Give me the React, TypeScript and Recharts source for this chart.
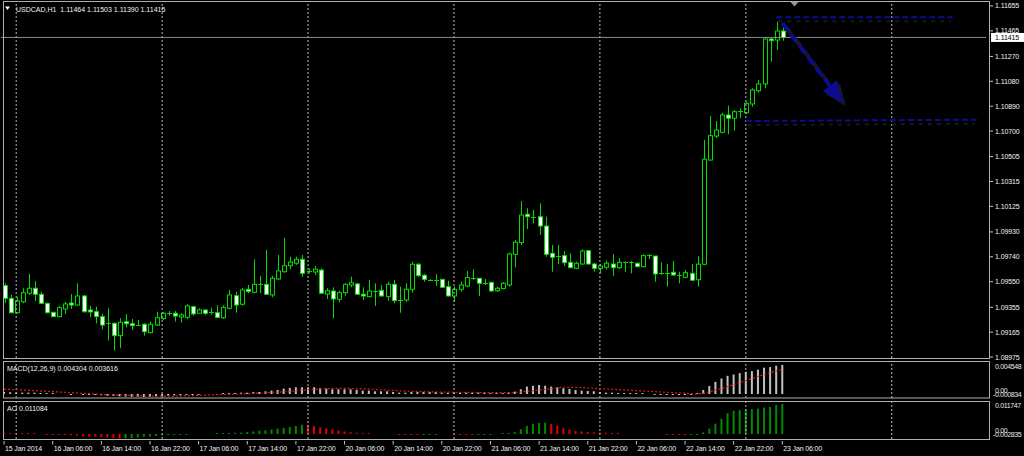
import { ComposedChart, Bar, Line, XAxis, YAxis, ReferenceLine } from "recharts";

const FONT = "'Liberation Sans', Arial, sans-serif";
const GREEN = "#00dc00";
const NAVY = "#0c0c92";
const GRID = "#bdbdbd";
const FRAME = "#b0b0b0";

const symbol = "USDCAD,H1";

// hourly candles, 15 Jan 22:00 .. 23 Jan 06:00
const opens = [
  1.0952, 1.09423, 1.09313, 1.09397, 1.09462, 1.095, 1.09454, 1.09385, 1.09316, 1.09283,
  1.09342, 1.09387, 1.09372, 1.09441, 1.09334, 1.09321, 1.09283, 1.09232, 1.09232, 1.09138,
  1.09245, 1.09229, 1.09219, 1.09225, 1.09161, 1.09219, 1.09268, 1.09306, 1.09309, 1.09281,
  1.09278, 1.09359, 1.09309, 1.09334, 1.09313, 1.09313, 1.09275, 1.09347, 1.09443, 1.09378,
  1.09492, 1.09469, 1.09533, 1.0953, 1.09449, 1.09571, 1.09626, 1.09672, 1.09691, 1.09721,
  1.09632, 1.09624, 1.09639, 1.09456, 1.09479, 1.09416, 1.09466, 1.09525, 1.09533, 1.09454,
  1.09436, 1.09479, 1.09484, 1.09436, 1.0953, 1.0941, 1.0941, 1.09492, 1.09683, 1.09599,
  1.09563, 1.09563, 1.09568, 1.09512, 1.09441, 1.09492, 1.09517, 1.09578, 1.09576, 1.09538,
  1.09545, 1.09481, 1.09497, 1.09525, 1.09759, 1.09848, 1.10065, 1.10046, 1.10046, 1.09975,
  1.09767, 1.09746, 1.09749, 1.09698, 1.09652, 1.09685, 1.09787, 1.09685, 1.09652, 1.0966,
  1.09685, 1.09657, 1.09698, 1.09698, 1.09691, 1.09665, 1.09754, 1.09746, 1.09614, 1.09614,
  1.09622, 1.09601, 1.09584, 1.09614, 1.09565, 1.09683, 1.10479, 1.10662, 1.10691, 1.10823,
  1.10798, 1.10848, 1.1084, 1.10907, 1.11008, 1.1106, 1.11403, 1.11395, 1.11464,
];
const highs = [
  1.09538, 1.09449, 1.09436, 1.095, 1.09609, 1.09555, 1.09474, 1.0939, 1.09321, 1.09365,
  1.09397, 1.09456, 1.09538, 1.09449, 1.09365, 1.09359, 1.09304, 1.09347, 1.0924, 1.09271,
  1.09304, 1.09265, 1.09258, 1.09232, 1.09245, 1.09321, 1.09321, 1.09326, 1.09326, 1.09309,
  1.09378, 1.09367, 1.09347, 1.09339, 1.09352, 1.0937, 1.0937, 1.09487, 1.09474, 1.09504,
  1.09525, 1.09721, 1.09594, 1.09792, 1.09594, 1.09754, 1.09886, 1.09741, 1.09741, 1.09754,
  1.09652, 1.0967, 1.09652, 1.095, 1.09507, 1.09481, 1.09538, 1.09588, 1.09542, 1.09507,
  1.09563, 1.09538, 1.09525, 1.0955, 1.09563, 1.09512, 1.09538, 1.09703, 1.09691, 1.09609,
  1.09568, 1.09609, 1.09573, 1.09558, 1.09512, 1.0955, 1.09632, 1.09645, 1.09576, 1.09571,
  1.0955, 1.09512, 1.09548, 1.09772, 1.09868, 1.10166, 1.10111, 1.10098, 1.10149, 1.10046,
  1.0983, 1.0983, 1.09784, 1.09767, 1.09703, 1.09797, 1.09792, 1.09695, 1.09685, 1.0971,
  1.09759, 1.09729, 1.09703, 1.09708, 1.09695, 1.09759, 1.09762, 1.09746, 1.09698, 1.09685,
  1.09708, 1.09626, 1.09639, 1.09685, 1.09744, 1.10632, 1.10815, 1.10777, 1.1084, 1.10894,
  1.10861, 1.10874, 1.10924, 1.11027, 1.1109, 1.11408, 1.11408, 1.11535, 1.11503,
];
const lows = [
  1.09387, 1.09309, 1.09309, 1.09385, 1.09449, 1.09403, 1.0938, 1.09309, 1.09283, 1.09278,
  1.09304, 1.09342, 1.09367, 1.09313, 1.09278, 1.09232, 1.09187, 1.091, 1.09023, 1.09042,
  1.09202, 1.09181, 1.09212, 1.09138, 1.09156, 1.09212, 1.09258, 1.09291, 1.09245, 1.09237,
  1.09265, 1.09291, 1.09304, 1.09296, 1.09298, 1.09273, 1.09265, 1.09339, 1.09313, 1.09367,
  1.09462, 1.09462, 1.09462, 1.09449, 1.09431, 1.09563, 1.09619, 1.09645, 1.09678, 1.09588,
  1.09614, 1.09601, 1.09456, 1.09418, 1.09271, 1.09393, 1.09443, 1.09507, 1.09449, 1.0941,
  1.09431, 1.09365, 1.09436, 1.09405, 1.09385, 1.09313, 1.09395, 1.09466, 1.09588, 1.0955,
  1.09555, 1.09517, 1.09502, 1.09436, 1.09397, 1.09474, 1.09507, 1.09563, 1.09441, 1.09525,
  1.09474, 1.09471, 1.09492, 1.09512, 1.0966, 1.0983, 1.09952, 1.09996, 1.09907, 1.09741,
  1.09626, 1.09685, 1.0967, 1.09652, 1.09645, 1.0968, 1.0968, 1.09626, 1.09614, 1.09642,
  1.09594, 1.09647, 1.09626, 1.09614, 1.0966, 1.0966, 1.09723, 1.0955, 1.09601, 1.09512,
  1.09596, 1.09538, 1.09576, 1.09555, 1.09512, 1.09678, 1.10474, 1.10645, 1.10683, 1.10676,
  1.10703, 1.108, 1.10831, 1.10886, 1.10993, 1.11027, 1.1123, 1.11319, 1.1139,
];
const closes = [
  1.09423, 1.09313, 1.09403, 1.09466, 1.095, 1.09454, 1.09385, 1.09313, 1.09283, 1.09352,
  1.0938, 1.09372, 1.09441, 1.09321, 1.09319, 1.09283, 1.09219, 1.09222, 1.09138, 1.0924,
  1.09229, 1.09214, 1.09217, 1.09168, 1.09225, 1.09275, 1.09309, 1.09311, 1.09288, 1.09296,
  1.09365, 1.09304, 1.09334, 1.09309, 1.09316, 1.09278, 1.09352, 1.09449, 1.09372, 1.09487,
  1.09474, 1.0953, 1.09527, 1.09454, 1.09576, 1.09632, 1.09672, 1.097, 1.09721, 1.09614,
  1.09632, 1.09645, 1.09462, 1.09481, 1.09418, 1.09466, 1.0953, 1.09542, 1.09454, 1.09441,
  1.09479, 1.0948, 1.09441, 1.0953, 1.09405, 1.0941, 1.09492, 1.09683, 1.09596, 1.09568,
  1.09563, 1.09561, 1.09507, 1.09441, 1.09492, 1.09525, 1.09581, 1.09578, 1.09538, 1.09535,
  1.09479, 1.095, 1.09538, 1.09762, 1.09851, 1.10059, 1.10046, 1.10046, 1.09975, 1.09759,
  1.09736, 1.09746, 1.09695, 1.09657, 1.09691, 1.09784, 1.09685, 1.09652, 1.0967, 1.09691,
  1.09657, 1.09698, 1.09698, 1.09695, 1.09665, 1.09749, 1.09754, 1.09609, 1.09614, 1.09611,
  1.09601, 1.09599, 1.09619, 1.09561, 1.09684, 1.10485, 1.10665, 1.10708, 1.10823, 1.10798,
  1.10848, 1.10851, 1.10912, 1.11014, 1.1106, 1.11403, 1.1139, 1.11464, 1.11415,
];

// MACD(12,26,9): main histogram and signal
const macdMain = [
  0.0003, 0.00025, 0.0002, 0.0002, 0.0002, 0.0002, 0.00015, 0.0001, 0.00005,
  0, 0, -0.00005, 0, -0.00005, -0.0001, -0.00015, -0.0002,
  -0.00025, -0.0003, -0.00035, -0.0004, -0.0004, -0.0004, -0.00045, -0.0004, -0.00035, -0.0003, -0.00025, -0.0002,
  -0.0002, -0.0001, -0.0001, -0.00005, 0, 0, 0, 0.00005, 0.0001, 0.0001,
  0.0002, 0.0002, 0.0003, 0.0003, 0.0004, 0.0005,
  0.0006, 0.0008, 0.0009, 0.001, 0.001, 0.001, 0.001, 0.0009, 0.0008, 0.0007,
  0.0007, 0.0007, 0.0007, 0.0006, 0.0005, 0.0005, 0.0004, 0.0004, 0.0004, 0.0003, 0.0002, 0.0002,
  0.0003, 0.0003, 0.0003, 0.0003, 0.0003, 0.0002, 0.0002, 0.0002, 0.0002, 0.0002, 0.0002, 0.0002, 0.0002, 0.00015, 0.00015, 0.00015, 0.0002,
  0.00035, 0.0007, 0.0011, 0.00123, 0.00133, 0.00123, 0.0011, 0.001,
  0.00085, 0.00075, 0.0006, 0.0005, 0.00045, 0.0004, 0.0003,
  0.0002, 0.0002, 0.00015, 0.0001, 0.0001, 0.00005, 0.00005, 0, -0.0001, -0.0001, -0.00015, -0.00015, -0.0001, -0.0001, -0.0001, 0.0001,
  0.0006, 0.0012, 0.0018, 0.0023, 0.0027, 0.0029, 0.0031, 0.0033, 0.0034, 0.0036, 0.0039, 0.004, 0.0042, 0.004304,
];
const macdSignal = [
  0.0007, 0.00068, 0.00065, 0.0006, 0.00055, 0.0005, 0.00045, 0.0004, 0.00035,
  0.0003, 0.00025, 0.0002, 0.00015, 0.0001, 0.00005, 0, -0.00005,
  -0.0001, -0.00013, -0.00017, -0.0002, -0.00023, -0.00027, -0.0003, -0.00032, -0.00033, -0.00033, -0.00032, -0.0003,
  -0.00028, -0.00026, -0.00023, -0.0002, -0.00017, -0.00014, -0.0001, -0.00007, -0.00004, -0.00001,
  0.00002, 0.00005, 0.0001, 0.00014, 0.00018, 0.00022,
  0.00027, 0.00032, 0.0004, 0.00048, 0.00056, 0.00064, 0.0007, 0.00076, 0.0008, 0.00083,
  0.00085, 0.00084, 0.00082, 0.0008, 0.00077, 0.00073, 0.00068, 0.00063, 0.00058, 0.00053, 0.00048, 0.00043,
  0.0004, 0.00037, 0.00034, 0.00032, 0.0003, 0.00028, 0.00027, 0.00026, 0.00025, 0.00024, 0.00023, 0.00022, 0.00022, 0.00021, 0.0002, 0.0002, 0.0002,
  0.00022, 0.0003, 0.0004, 0.0005, 0.0006, 0.0007, 0.0008, 0.0009, 0.001, 0.001, 0.00098, 0.00095, 0.0009, 0.00085, 0.0008,
  0.00075, 0.0007, 0.00065, 0.0006, 0.00055, 0.0005, 0.00045, 0.0004, 0.00035, 0.0003, 0.00025, 0.0002, 0.00015, 0.0001, 0.00005, 0,
  0.0001, 0.0003, 0.0006, 0.0008, 0.0011, 0.0014, 0.0017, 0.002, 0.0023, 0.0026, 0.0029, 0.0032, 0.0034, 0.003616,
];

// Awesome Oscillator
const aoValues = [
  0.0003, 0.00025, 0.0002, 0.00015, 0.0001, 0.00005, 0, -0.0001,
  -0.0002, -0.0003, -0.0004, -0.0005, -0.0006, -0.0008, -0.0009, -0.001, -0.0012, -0.0013, -0.0015, -0.0017,
  -0.0016, -0.0015, -0.0013, -0.0011, -0.0009, -0.0007,
  -0.0005, -0.0003, -0.0002, -0.0001, -0.00005,
  0, 0, 0, 0,
  0.0001, 0.0002, 0.0003, 0.0004,
  0.0005, 0.0007, 0.0009, 0.0012, 0.0014, 0.0017, 0.002, 0.0023, 0.0026, 0.003, 0.0034,
  0.0033, 0.0029, 0.0025, 0.0021, 0.0017, 0.0013,
  0.0009, 0.0006, 0.0004, 0.0002, 0.0001,
  0, 0, 0, 0,
  -0.0001, -0.00015, -0.0002,
  -0.0002,
  -0.00015, -0.0001, -0.00005,
  0, 0,
  -0.0001, -0.00015, -0.0002,
  -0.0002,
  -0.00015, -0.0001, -0.00005,
  0, 0.0001,
  0.0003,
  0.0007, 0.0018, 0.003, 0.0037, 0.0041, 0.0042,
  0.0037, 0.0031, 0.0023, 0.0016, 0.0011, 0.0009, 0.0007, 0.0006, 0.0005, 0.0004, 0.0002,
  0.0001, 0, 0, 0, 0, 0, 0, 0,
  -0.0001, -0.0002,
  -0.0003, -0.0004, -0.0003, -0.0002,
  0.0006,
  0.002, 0.0038, 0.0056, 0.0077, 0.0086, 0.0089, 0.0091, 0.0092, 0.0093, 0.0098, 0.01, 0.0107, 0.011084,
];

const timeLabels = [
  "15 Jan 2014", "16 Jan 06:00", "16 Jan 14:00", "16 Jan 22:00", "17 Jan 06:00", "17 Jan 14:00",
  "17 Jan 22:00", "20 Jan 06:00", "20 Jan 14:00", "20 Jan 22:00", "21 Jan 06:00", "21 Jan 14:00",
  "21 Jan 22:00", "22 Jan 06:00", "22 Jan 14:00", "22 Jan 22:00", "23 Jan 06:00",
];
const priceTicks = [
  1.11655, 1.11465, 1.1127, 1.1108, 1.1089, 1.107, 1.10505, 1.10315, 1.10125, 1.0993,
  1.0974, 1.0955, 1.09355, 1.09165, 1.08975,
];
const dayStarts = [2, 26, 50, 74, 98, 122, 146];

const macdRange = [-0.000834, 0.004548];
const aoRange = [-0.002835, 0.011747];

// drawn objects on the price chart
const resistance = { from: 127, to: 156, fromPrice: 1.11569, toPrice: 1.11569 };
const support = { from: 122, to: 160, fromPrice: 1.10777, toPrice: 1.10787 };
const arrow = { from: 128, to: 138, fromPrice: 1.11525, toPrice: 1.10912 };
const shiftBar = 130;

const SLOTS = 162;
const last = closes.length - 1;
const bid = closes[last];

const rows = Array.from({ length: SLOTS }, (_, i) => ({
  i,
  o: opens[i],
  h: highs[i],
  l: lows[i],
  c: closes[i],
  macd: macdMain[i],
  signal: macdSignal[i],
  ao: aoValues[i],
  aoUp: i > 0 && aoValues[i] > aoValues[i - 1],
}));

const Candle = (props: any) => {
  const { x, y, width, height, payload } = props;
  if (!payload || payload.o == null) return null;
  const { o, h, l, c } = payload;
  const top = Math.min(y, y + height);
  const span = Math.abs(height);
  const k = span / (h - l || 1);
  const cx = Math.round(x + width / 2) + 0.5;
  const bTop = top + (h - Math.max(o, c)) * k;
  const bBot = top + (h - Math.min(o, c)) * k;
  const up = c >= o;
  return (
    <g>
      <line x1={cx} x2={cx} y1={top} y2={top + span} stroke={GREEN} strokeWidth={1} />
      {bBot - bTop < 1.5 ? (
        <line x1={cx - 2.5} x2={cx + 2.5} y1={Math.round(bTop) + 0.5} y2={Math.round(bTop) + 0.5} stroke={GREEN} />
      ) : (
        <rect x={cx - 2} y={bTop} width={4} height={bBot - bTop} fill={up ? "#000" : "#fff"} stroke={GREEN} strokeWidth={1} />
      )}
    </g>
  );
};

const histShape = (color: (p: any) => string, key: string) => (props: any) => {
  const { x, y, width, height, payload } = props;
  const v = payload ? payload[key] : null;
  if (v == null || v === 0) return null;
  const top = Math.min(y, y + height);
  const bot = Math.max(y, y + height);
  const hh = Math.max(bot - top, 1);
  const ry = v > 0 ? bot - hh : top;
  return <rect x={x} y={ry} width={width} height={hh} fill={color(payload)} />;
};

const MacdBar = histShape(() => "#c0c0c0", "macd");
const AoBar = histShape((p) => (p.aoUp ? "#008a00" : "#e00000"), "ao");

const PriceTick = (props: any) => {
  const { y, payload } = props;
  const v = payload.value as number;
  if (v === bid) {
    return (
      <g>
        <rect x={991} y={y - 4.5} width={33} height={9} fill="#fff" />
        <text x={995} y={y + 2.5} fill="#000" fontSize={7} fontFamily={FONT} letterSpacing={-0.1}>
          {v.toFixed(5)}
        </text>
      </g>
    );
  }
  return (
    <g>
      <line x1={990} x2={993} y1={y} y2={y} stroke="#c8c8c8" />
      <text x={995} y={y + 2.5} fill="#f2f2f2" fontSize={7} fontFamily={FONT} letterSpacing={-0.1}>
        {v.toFixed(5)}
      </text>
    </g>
  );
};

const subTick = (range: number[]) => (props: any) => {
  const { y, payload } = props;
  const v = payload.value as number;
  const style = { fontSize: 7, fontFamily: FONT, letterSpacing: -0.35 };
  if (v === 0) {
    return (
      <g>
        <text x={993} y={y + 3} fill="#e8e8e8" {...style}>{range[0].toFixed(6)}</text>
        <text x={995} y={y - 0.5} fill="#e8e8e8" {...style}>0.00</text>
      </g>
    );
  }
  return (
    <text x={995} y={y + 6} fill="#e8e8e8" {...style}>{v.toFixed(6)}</text>
  );
};

const TimeTick = (props: any) => {
  const { x, payload } = props;
  const idx = payload.value as number;
  if (idx % 8 !== 0) return null;
  const label = timeLabels[idx / 8];
  if (!label) return null;
  return (
    <g>
      <line x1={x} x2={x} y1={40} y2={43.5} stroke="#c8c8c8" />
      <text x={x + 1} y={50} fill="#f2f2f2" fontSize={7} fontFamily={FONT} letterSpacing={-0.15}>
        {label}
      </text>
    </g>
  );
};

const LevelShape = (p: any) => (
  <g>
    <line x1={p.x1 + 2} y1={p.y1 + 4} x2={p.x2 - 2} y2={p.y2 + 4} stroke="#181818" strokeWidth={2} strokeDasharray="4 5" />
    <line x1={p.x1} y1={p.y1} x2={p.x2} y2={p.y2} stroke={NAVY} strokeWidth={2} strokeDasharray="6 3" />
  </g>
);

const ArrowShape = (p: any) => {
  const { x1, y1, x2, y2 } = p;
  const dx = x2 - x1;
  const dy = y2 - y1;
  const len = Math.hypot(dx, dy) || 1;
  const ux = dx / len;
  const uy = dy / len;
  const headLen = 22;
  const half = 9;
  const bx = x2 - ux * headLen;
  const by = y2 - uy * headLen;
  const head = (ox: number, oy: number) =>
    `${x2 + ox},${y2 + oy} ${bx - uy * half + ox},${by + ux * half + oy} ${bx + uy * half + ox},${by - ux * half + oy}`;
  return (
    <g>
      <line x1={x1 + 3} y1={y1 + 3} x2={bx + 3} y2={by + 3} stroke="#181818" strokeWidth={4} strokeDasharray="10 5" />
      <polygon points={head(3, 3)} fill="#181818" />
      <line x1={x1} y1={y1} x2={bx} y2={by} stroke={NAVY} strokeWidth={4} strokeDasharray="10 4" />
      <polygon points={head(0, 0)} fill={NAVY} />
    </g>
  );
};

const ShiftMark = (p: any) => {
  const cx = p.x1;
  return <polygon points={`${cx - 4},2 ${cx + 4},2 ${cx},6.5`} fill="#8a96a4" />;
};

const dayLines = () =>
  dayStarts.map((d) => (
    <ReferenceLine key={`d${d}`} x={d} stroke={GRID} strokeDasharray="2 2" />
  ));

export default function App() {
  const header = `${symbol}  ${opens[last].toFixed(5)} ${highs[last].toFixed(5)} ${lows[last].toFixed(5)} ${closes[last].toFixed(5)}`;
  const macdHeader = `MACD(12,26,9) ${macdMain[last].toFixed(6)} ${macdSignal[last].toFixed(6)}`;
  const aoHeader = `AO ${aoValues[last].toFixed(6)}`;

  return (
    <div style={{ position: "absolute", left: 0, top: 0, width: 1024, height: 456, background: "#000", overflow: "hidden" }}>
      <div style={{ position: "absolute", left: 0, top: 0 }}>
        <ComposedChart width={1024} height={360} data={rows} margin={{ top: 3, right: 4, bottom: 2, left: 1 }} barCategoryGap={0} barGap={0}>
          <XAxis dataKey="i" type="category" hide />
          <YAxis
            orientation="right"
            type="number"
            domain={[1.089674, 1.116779]}
            allowDataOverflow
            ticks={[...priceTicks, bid]}
            interval={0}
            axisLine={false}
            tickLine={false}
            width={34}
            tick={PriceTick}
          />
          {dayLines()}
          <ReferenceLine y={bid} stroke="#8c8c8c" />
          <Bar dataKey={(d: any) => (d.o == null ? null : [d.l, d.h])} barSize={5} shape={Candle} isAnimationActive={false} />
          <ReferenceLine
            segment={[{ x: resistance.from, y: resistance.fromPrice }, { x: resistance.to, y: resistance.toPrice }]}
            shape={LevelShape}
          />
          <ReferenceLine
            segment={[{ x: support.from, y: support.fromPrice }, { x: support.to, y: support.toPrice }]}
            shape={LevelShape}
          />
          <ReferenceLine
            segment={[{ x: arrow.from, y: arrow.fromPrice }, { x: arrow.to, y: arrow.toPrice }]}
            shape={ArrowShape}
          />
          <ReferenceLine x={shiftBar} shape={ShiftMark} />
        </ComposedChart>
      </div>

      <div style={{ position: "absolute", left: 0, top: 361 }}>
        <ComposedChart width={1024} height={37} data={rows} margin={{ top: 0, right: 4, bottom: 0, left: 1 }} barCategoryGap={0} barGap={0}>
          <XAxis dataKey="i" type="category" hide />
          <YAxis
            orientation="right"
            type="number"
            domain={[-0.000594, 0.0049]}
            allowDataOverflow
            ticks={[macdRange[1], 0]}
            interval={0}
            axisLine={false}
            tickLine={false}
            width={34}
            tick={subTick(macdRange)}
          />
          {dayLines()}
          <Bar dataKey="macd" barSize={2} shape={MacdBar} isAnimationActive={false} />
          <Line dataKey="signal" type="linear" stroke="#ff1010" strokeWidth={1.2} strokeDasharray="2 2" dot={false} isAnimationActive={false} />
        </ComposedChart>
      </div>

      <div style={{ position: "absolute", left: 0, top: 401 }}>
        <ComposedChart width={1024} height={55} data={rows} margin={{ top: 0, right: 4, bottom: 0, left: 1 }} barCategoryGap={0} barGap={0}>
          <XAxis dataKey="i" type="category" height={17} interval={0} axisLine={false} tickLine={false} tick={TimeTick} />
          <YAxis
            orientation="right"
            type="number"
            domain={[-0.00185, 0.0122]}
            allowDataOverflow
            ticks={[aoRange[1], 0]}
            interval={0}
            axisLine={false}
            tickLine={false}
            width={34}
            tick={subTick(aoRange)}
          />
          {dayLines()}
          <Bar dataKey="ao" barSize={2} shape={AoBar} isAnimationActive={false} />
        </ComposedChart>
      </div>

      <svg width={1024} height={456} style={{ position: "absolute", left: 0, top: 0, pointerEvents: "none" }}>
        <rect x={3.5} y={1.5} width={986} height={357} fill="none" stroke={FRAME} />
        <rect x={3.5} y={361.5} width={986} height={36.5} fill="none" stroke={FRAME} />
        <rect x={3.5} y={401.5} width={986} height={38} fill="none" stroke={FRAME} />
        <polygon points="5,6.5 10,6.5 7.5,10" fill="#fff" />
        <text x={16} y={11.5} fill="#f2f2f2" fontSize={7} fontFamily={FONT} style={{ whiteSpace: "pre" }}>
          {header}
        </text>
        <text x={7} y={370.5} fill="#f2f2f2" fontSize={7} fontFamily={FONT}>
          {macdHeader}
        </text>
        <text x={7} y={410.5} fill="#f2f2f2" fontSize={7} fontFamily={FONT}>
          {aoHeader}
        </text>
      </svg>
    </div>
  );
}
